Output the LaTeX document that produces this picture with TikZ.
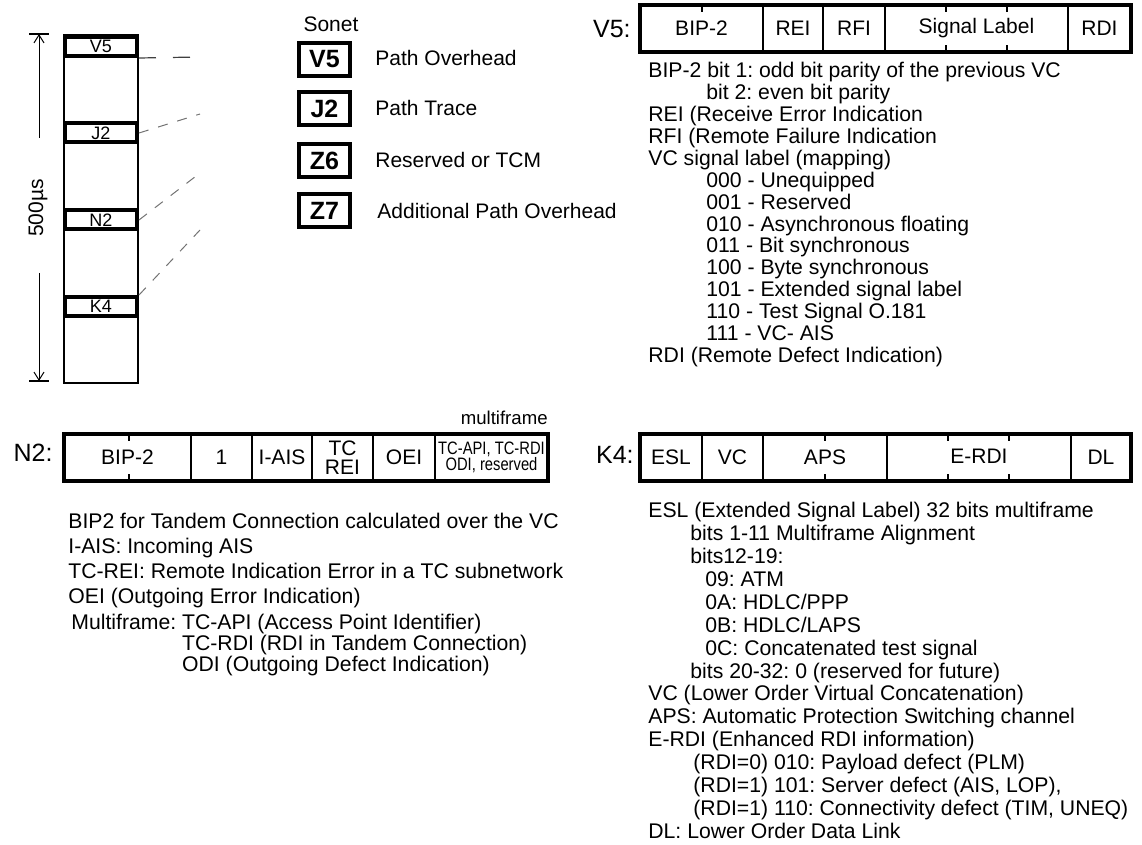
\documentclass[tikz,border=0pt]{standalone}
\usepackage{fontspec}
\usepackage{graphicx}
\setmainfont{Liberation Sans}
\usetikzlibrary{arrows.meta}
\frenchspacing

\tikzset{
  cell/.style={draw, line width=0.6pt, minimum height=23.5pt, inner sep=0pt, font=\fontsize{10.5}{12}\selectfont},
  bar/.style={draw, line width=2pt, minimum height=23.5pt, inner sep=0pt},
  colbox/.style={draw, line width=2pt, fill=white, minimum width=36pt, minimum height=9.5pt, inner sep=0pt, font=\fontsize{9}{10}\selectfont},
  sonetbox/.style={draw, line width=2pt, minimum width=25.5pt, minimum height=16.5pt, inner sep=0pt, font=\bfseries\fontsize{12.5}{14}\selectfont},
  desc/.style={anchor=west, inner sep=0pt, font=\fontsize{10.5}{12}\selectfont},
  field/.style={anchor=base east, inner sep=0pt, font=\fontsize{12.5}{14}\selectfont},
  notes/.style={anchor=north west, align=left, inner sep=0pt},
  bittick/.style={line width=0.6pt},
  mainlink/.style={draw=black!75, line width=0.6pt, dash pattern=on 8.5pt off 8.5pt},
  link/.style={draw=black!55, line width=0.5pt, dash pattern=on 5pt off 5pt}
}

\begin{document}
\begin{tikzpicture}[x=0.5pt, y=-0.5pt]
\useasboundingbox (0,0) rectangle (1142,845);

% 500us frame with its overhead bytes
\draw[line width=0.75pt] (64,35) rectangle (138,383);
\node[colbox] (colv5) at (101,46.5) {V5};
\node[colbox] (colj2) at (101,133) {J2};
\node[colbox] (coln2) at (101,220) {N2};
\node[colbox] (colk4) at (101,306.5) {K4};

% frame length
\coordinate (dimtop) at (39,34);
\coordinate (dimbot) at (39,381);
\coordinate (dimA) at (39,138);
\coordinate (dimB) at (39,273);
\node[rotate=90, inner sep=0pt, font=\fontsize{10.5}{12}\selectfont] (dimlbl) at (38,208) {500µs};
\draw[line width=0.5pt, -{Straight Barb[length=4pt,width=5pt]}] (dimA) -- (dimtop);
\draw[line width=0.5pt, -{Straight Barb[length=4pt,width=5pt]}] (dimB) -- (dimbot);
\draw[line width=0.6pt] (29,34) -- (49,34);
\draw[line width=0.6pt] (29,381) -- (49,381);

% leaders towards the Sonet names
\coordinate (v5end) at (200,57);
\coordinate (j2end) at (200,114);
\coordinate (n2end) at (200,173);
\coordinate (k4end) at (200,230);
\draw[mainlink] (colv5.south east) -- (v5end);
\draw[link] (colj2.east) -- (j2end);
\draw[link] (coln2.east) -- (n2end);
\draw[link] (colk4.north east) -- (k4end);

% Sonet names
\node[inner sep=0pt, font=\fontsize{10.5}{12}\selectfont] (sonet) at (331,24) {Sonet};
\node[sonetbox] (sv5) at (324.5,59.5) {V5};
\node[sonetbox] (sj2) at (324.5,109) {J2};
\node[sonetbox] (sz6) at (324.5,160.5) {Z6};
\node[sonetbox] (sz7) at (324.5,210.5) {Z7};
\node[desc] (sv5d) at (375,58) {Path Overhead};
\node[desc] (sj2d) at (375,108) {Path Trace};
\node[desc] (sz6d) at (375,159.5) {Reserved or TCM};
\node[desc] (sz7d) at (377,210.5) {Additional Path Overhead};

% V5 byte
\node[field] (v5lbl) at (631,38) {V5:};
\node[cell, minimum width=61.5pt] (v5bip) at (701.5,28.5) {BIP-2};
\node[cell, minimum width=30pt] (v5rei) at (793,28.5) {REI};
\node[cell, minimum width=31pt] (v5rfi) at (854,28.5) {RFI};
\node[cell, minimum width=91.5pt] (v5sig) at (976.5,28.5) {\raisebox{1.5pt}{Signal Label}};
\node[cell, minimum width=31.5pt] (v5rdi) at (1099.5,28.5) {RDI};
\node[bar, minimum width=245.5pt] (v5bar) at (885.5,28.5) {};
\draw[bittick] (702,7) -- (702,12);
\foreach \x in {946,1007} {
  \draw[bittick] (\x,7) -- (\x,12);
  \draw[bittick] (\x,50) -- (\x,45);
}

\node[notes, font=\fontsize{10.6}{10.95}\selectfont] (v5notes) at (648,62) {BIP-2 bit 1: odd bit parity of the previous VC\\
\hspace*{29pt}bit 2: even bit parity\\
REI (Receive Error Indication\\
RFI (Remote Failure Indication\\
VC signal label (mapping)\\
\hspace*{29pt}000 - Unequipped\\
\hspace*{29pt}001 - Reserved\\
\hspace*{29pt}010 - Asynchronous floating\\
\hspace*{29pt}011 - Bit synchronous\\
\hspace*{29pt}100 - Byte synchronous\\
\hspace*{29pt}101 - Extended signal label\\
\hspace*{29pt}110 - Test Signal O.181\\
\hspace*{29pt}111 - VC- AIS\\
RDI (Remote Defect Indication)};

% N2 byte
\node[field] (n2lbl) at (53,462) {N2:};
\node[cell, minimum width=63.5pt] (n2bip) at (127.5,457.5) {BIP-2};
\node[cell, minimum width=30.5pt] (n2one) at (221.5,457.5) {1};
\node[cell, minimum width=30pt] (n2ais) at (282,457.5) {I-AIS};
\node[cell, minimum width=30.5pt, align=center, font=\fontsize{10.5}{9.5}\selectfont] (n2rei) at (342.5,457.5) {TC\\REI};
\node[cell, minimum width=31pt] (n2oei) at (404,457.5) {OEI};
\node[cell, minimum width=56.5pt, align=center, font=\fontsize{9}{8}\selectfont] (n2mf) at (491.5,457.5) {\scalebox{0.82}[1]{TC-API, TC-RDI}\\\scalebox{0.82}[1]{ODI, reserved}};
\node[bar, minimum width=242pt] (n2bar) at (306,457.5) {};
\node[anchor=base east, inner sep=0pt, font=\fontsize{9.3}{10}\selectfont] (n2mflbl) at (548,425) {multiframe};
\draw[bittick] (129,436) -- (129,441);
\draw[bittick] (129,479) -- (129,474);

\node[notes, font=\fontsize{10.6}{10.5}\selectfont] (n2notes) at (68,512.5) {BIP2 for Tandem Connection calculated over the VC\\[2pt]
I-AIS: Incoming AIS\\[2pt]
TC-REI: Remote Indication Error in a TC subnetwork\\[2pt]
OEI (Outgoing Error Indication)\\[2.5pt]
\hspace*{1.5pt}Multiframe: TC-API (Access Point Identifier)\\
\hspace*{1.5pt}\phantom{Multiframe: }TC-RDI (RDI in Tandem Connection)\\
\hspace*{1.5pt}\phantom{Multiframe: }ODI (Outgoing Defect Indication)};

% K4 byte
\node[field] (k4lbl) at (634,464) {K4:};
\node[cell, minimum width=31pt] (k4esl) at (671,457.5) {ESL};
\node[cell, minimum width=30.5pt] (k4vc) at (732.5,457.5) {VC};
\node[cell, minimum width=62pt] (k4aps) at (825,457.5) {\raisebox{-1pt}{APS}};
\node[cell, minimum width=92pt] (k4erdi) at (979,457.5) {\raisebox{1.5pt}{E-RDI}};
\node[cell, minimum width=30pt] (k4dl) at (1101,457.5) {DL};
\node[bar, minimum width=245.5pt] (k4bar) at (885.5,457.5) {};
\foreach \x in {825,948,1009} {
  \draw[bittick] (\x,436) -- (\x,441);
  \draw[bittick] (\x,479) -- (\x,474);
}

\node[notes, font=\fontsize{10.6}{11.45}\selectfont] (k4notes) at (648,502) {ESL (Extended Signal Label) 32 bits multiframe\\
\hspace*{21pt}bits 1-11 Multiframe Alignment\\
\hspace*{21pt}bits12-19:\\
\hspace*{28.5pt}09: ATM\\
\hspace*{28.5pt}0A: HDLC/PPP\\
\hspace*{28.5pt}0B: HDLC/LAPS\\
\hspace*{28.5pt}0C: Concatenated test signal\\
\hspace*{21pt}bits 20-32: 0 (reserved for future)\\
VC (Lower Order Virtual Concatenation)\\
APS: Automatic Protection Switching channel\\
E-RDI (Enhanced RDI information)\\
\hspace*{22.5pt}(RDI=0) 010: Payload defect (PLM)\\
\hspace*{22.5pt}(RDI=1) 101: Server defect (AIS, LOP),\\
\hspace*{22.5pt}(RDI=1) 110: Connectivity defect (TIM, UNEQ)\\
DL: Lower Order Data Link};
\end{tikzpicture}
\end{document}
